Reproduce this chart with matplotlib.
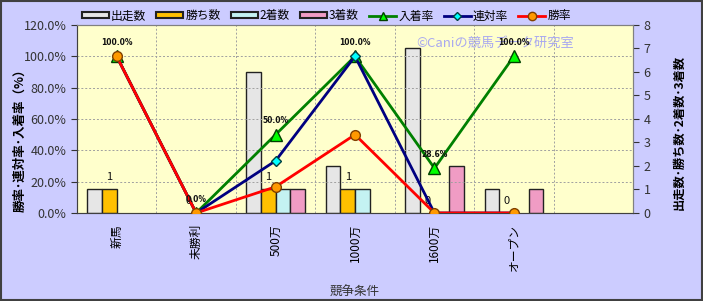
import matplotlib
matplotlib.use("Agg")
import matplotlib.pyplot as plt
from matplotlib.patches import Rectangle
from matplotlib.lines import Line2D
from matplotlib.ticker import PercentFormatter
import numpy as np

plt.rcParams['font.family'] = ['Noto Sans CJK JP', 'DejaVu Sans']

categories = ['新馬', '未勝利', '500万', '1000万', '1600万', 'オープン', '']
starts = [1, 0, 6, 2, 7, 1]
wins = [1, 0, 1, 1, 0, 0]
seconds = [0, 0, 1, 1, 0, 0]
thirds = [0, 0, 1, 0, 2, 1]
place_rate = [100.0, 0.0, 50.0, 100.0, 28.6, 100.0]
rentai_rate = [100.0, 0.0, 33.3, 100.0, 0.0, 0.0]
win_rate = [100.0, 0.0, 16.7, 50.0, 0.0, 0.0]

bar_names = ['出走数', '勝ち数', '2着数', '3着数']
bar_colors = ['#E6E6E6', '#FFC000', '#C4F2F2', '#F09CC4']

fig = plt.figure(figsize=(7.03, 3.01), dpi=100)
fig.patch.set_facecolor('#CCCCFF')
fig.patches.append(Rectangle((0.001, 0.002), 0.997, 0.995, transform=fig.transFigure,
                             fill=False, edgecolor='#404040', linewidth=1.5))

# bars on main axes (right scale), lines on twin (left scale) so lines sit on top
ax = fig.add_axes([0.1095, 0.2924, 0.791, 0.6246])
ax.set_facecolor('#FFFFCC')
ax2 = ax.twinx()

x = np.arange(len(starts))
w = 0.185
for i, vals in enumerate([starts, wins, seconds, thirds]):
    h = np.array(vals, dtype=float)
    h[h == 0] = np.nan  # zero bars are not drawn
    ax.bar(x + (i - 1.5) * w, h, width=w, color=bar_colors[i],
           edgecolor='#222222', linewidth=1.0, zorder=3)

for xi, v in zip(x, wins):
    ax.text(xi - 0.5 * w, v + 0.3, str(v), ha='center', va='bottom',
            fontsize=8, color='#111111', zorder=4)

ax.text(0.61, 0.904, '©Caniの競馬データ研究室', transform=ax.transAxes,
        fontsize=9.5, color='#A8A8F0', ha='left', va='center', zorder=1)

ax.set_xlim(-0.5, len(categories) - 0.5)
ax.set_ylim(0, 8)
ax.set_xticks(np.arange(len(categories)))
ax.set_xticklabels(categories, rotation=90, fontsize=8.5)
ax.set_xticks(np.arange(len(categories) + 1) - 0.5, minor=True)
ax.tick_params(axis='x', which='major', length=0, pad=8)
ax.tick_params(axis='x', which='minor', length=0)
ax.grid(True, axis='x', which='minor', color='#A0A0A0', linestyle=(0, (2, 2)), linewidth=0.7, zorder=0)
ax.set_axisbelow(True)
ax.yaxis.tick_right()
ax.yaxis.set_label_position('right')
ax.set_yticks(range(0, 9))
ax.tick_params(axis='y', labelsize=9, colors='#333333', length=4, direction='out')
ax.set_ylabel('出走数･勝ち数･2着数･3着数', fontsize=8.8, fontweight='bold', rotation=90)
ax.yaxis.set_label_coords(1.071, 0.431)
ax.set_xlabel('競争条件', fontsize=9, color='#333333')
ax.xaxis.set_label_coords(0.5, -0.388)

ax2.set_ylim(0, 120)
ax2.yaxis.tick_left()
ax2.yaxis.set_label_position('left')
ax2.set_yticks(np.arange(0, 121, 20))
ax2.yaxis.set_major_formatter(PercentFormatter(decimals=1))
ax2.tick_params(axis='y', labelsize=9, colors='#333333', length=4, direction='out')
ax2.set_ylabel('勝率･連対率･入着率（%）', fontsize=9, fontweight='bold')
ax2.yaxis.set_label_coords(-0.091, 0.404)
ax2.grid(True, axis='y', color='#A0A0A0', linestyle=(0, (2, 2)), linewidth=0.7)

ax2.plot(x, place_rate, color='#008000', linewidth=2, marker='^', markersize=8,
         markerfacecolor='#00FF00', markeredgecolor='#004000', zorder=5)
ax2.plot(x, rentai_rate, color='#000080', linewidth=2, marker='D', markersize=5,
         markerfacecolor='#00FFFF', markeredgecolor='#004040', zorder=6)
ax2.plot(x, win_rate, color='#FF0000', linewidth=2, marker='o', markersize=7,
         markerfacecolor='#FF9900', markeredgecolor='#804000', zorder=7)

for xi, v in zip(x, place_rate):
    ax2.text(xi, v + 6, f'{v:.1f}%', ha='center', va='bottom', fontsize=5.5,
             fontweight='bold', color='#111111', family='DejaVu Sans', zorder=8)

for sp in ['left', 'bottom', 'right', 'top']:
    ax.spines[sp].set_color('#808080')
    ax2.spines[sp].set_color('#808080')
ax2.spines['left'].set_color('#404040')
ax2.spines['bottom'].set_color('#404040')

handles = [Rectangle((0, 0), 1, 1, facecolor=c, edgecolor='#222222', linewidth=1.5) for c in bar_colors]
handles += [
    Line2D([], [], color='#008000', linewidth=2, marker='^', markersize=6,
           markerfacecolor='#00FF00', markeredgecolor='#004000'),
    Line2D([], [], color='#000080', linewidth=2, marker='D', markersize=4,
           markerfacecolor='#00FFFF', markeredgecolor='#004040'),
    Line2D([], [], color='#FF0000', linewidth=2, marker='o', markersize=6,
           markerfacecolor='#FF9900', markeredgecolor='#804000'),
]
labels = bar_names + ['入着率', '連対率', '勝率']
fig.legend(handles, labels, loc='center', bbox_to_anchor=(0.464, 0.947), ncol=7,
           frameon=False, fontsize=8.5, handlelength=2.3, handleheight=0.45,
           handletextpad=0.17, columnspacing=0.85, borderaxespad=0, borderpad=0)

fig.savefig('out.png', dpi=100, facecolor=fig.get_facecolor())
